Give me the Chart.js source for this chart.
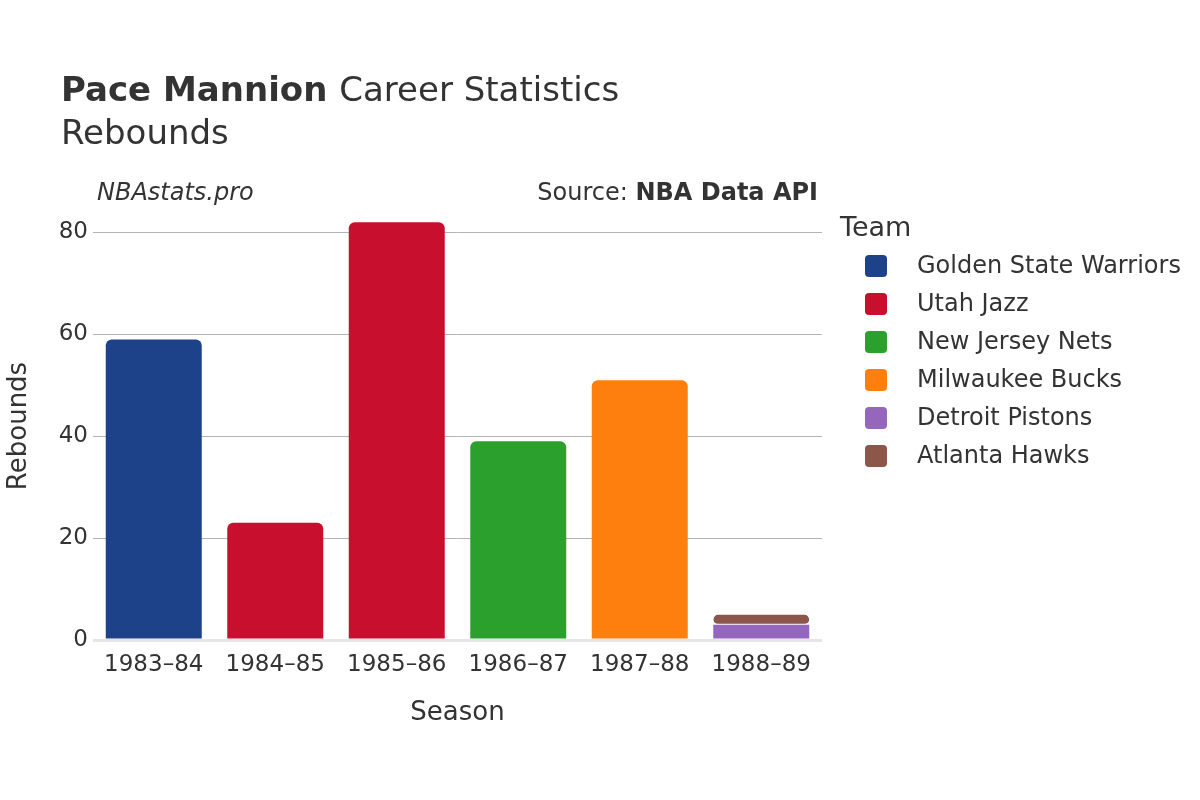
<!DOCTYPE html>
<html>
<head>
<meta charset="utf-8">
<script src="https://cdn.jsdelivr.net/npm/chart.js@4/dist/chart.umd.min.js"></script>
<style>
  body { margin: 0; background: #fff; }
  canvas { display: block; }
</style>
</head>
<body>
<canvas id="chartCanvas" width="1200" height="800"></canvas>
<script>
// Datos del grafico
const seasons = ["1983–84", "1984–85", "1985–86", "1986–87", "1987–88", "1988–89"];
const teams = ["Golden State Warriors", "Utah Jazz", "New Jersey Nets", "Milwaukee Bucks", "Detroit Pistons", "Atlanta Hawks"];
const teamColors = ["#1d428a", "#c8102e", "#2ca02c", "#ff7f0e", "#9467bd", "#8c564b"];
const warriors = [59, null, null, null, null, null];
const jazz = [null, 23, 82, null, null, null];
const nets = [null, null, null, 39, null, null];
const bucks = [null, null, null, null, 51, null];
const pistons = [null, null, null, null, null, 3];
const hawks = [null, null, null, null, null, 2];
const yTicks = [0, 20, 40, 60, 80];

const FONT = "'DejaVu Sans', sans-serif";
const TEXT = "#333333";

const seriesValues = [warriors, jazz, nets, bucks, pistons, hawks];

// Titulos, fuente y leyenda
const textPlugin = {
    id: "texts",
    afterDraw(chart) {
        const ctx = chart.ctx;
        ctx.save();
        ctx.fillStyle = TEXT;
        ctx.textBaseline = "alphabetic";
        ctx.textAlign = "left";

        ctx.font = "bold 34px " + FONT;
        ctx.fillText("Pace Mannion", 61, 101);
        const w = ctx.measureText("Pace Mannion ").width;
        ctx.font = "34px " + FONT;
        ctx.fillText("Career Statistics", 61 + w, 101);
        ctx.fillText("Rebounds", 61, 144);

        ctx.font = "italic 24px " + FONT;
        ctx.fillText("NBAstats.pro", 97, 200);

        ctx.textAlign = "right";
        ctx.font = "bold 24px " + FONT;
        ctx.fillText("NBA Data API", 818, 200);
        const bw = ctx.measureText("NBA Data API").width;
        ctx.font = "24px " + FONT;
        ctx.fillText("Source: ", 818 - bw, 200);

        // Leyenda
        ctx.textAlign = "left";
        ctx.font = "27px " + FONT;
        ctx.fillText("Team", 840, 236);
        ctx.font = "24px " + FONT;
        ctx.textBaseline = "middle";
        chart.data.datasets.forEach((ds, i) => {
            const y = 266 + i * 38;
            ctx.fillStyle = ds.backgroundColor;
            ctx.beginPath();
            ctx.roundRect(865, y - 11, 22, 22, 4);
            ctx.fill();
            ctx.fillStyle = TEXT;
            ctx.fillText(ds.label, 917, y + 1);
        });
        ctx.restore();
    }
};

const chartCanvas = document.getElementById("chartCanvas");

new Chart(chartCanvas, {
    type: "bar",
    data: {
        labels: seasons,
        datasets: teams.map((team, i) => ({
            label: team,
            data: seriesValues[i],
            backgroundColor: teamColors[i],
            borderColor: "#ffffff",
            borderWidth: i === 5 ? { bottom: 1 } : 0,
            borderSkipped: i === 5 ? false : "start",
            borderRadius: 6,
            barPercentage: 0.79,
            categoryPercentage: 1.0
        }))
    },
    options: {
        responsive: false,
        animation: false,
        layout: {
            padding: { left: 4, right: 378, top: 212, bottom: 71 }
        },
        plugins: {
            legend: { display: false },
            tooltip: { enabled: false },
            title: { display: false }
        },
        scales: {
            x: {
                stacked: true,
                grid: { display: false },
                border: { display: false },
                ticks: {
                    color: TEXT,
                    font: { family: FONT, size: 23 },
                    padding: 3,
                    maxRotation: 0
                },
                title: {
                    display: true,
                    text: "Season",
                    color: TEXT,
                    font: { family: FONT, size: 26 },
                    padding: { top: 10, bottom: 0 }
                },
                afterFit(scale) { scale.height = 89; }
            },
            y: {
                stacked: true,
                min: 0,
                max: 84,
                afterBuildTicks(scale) {
                    scale.ticks = yTicks.map(v => ({ value: v }));
                },
                grid: {
                    drawTicks: false,
                    color: (c) => c.tick && c.tick.value === 0 ? "#e6e6e6" : "#b4b4b4",
                    lineWidth: (c) => c.tick && c.tick.value === 0 ? 3 : 1
                },
                border: { display: false },
                ticks: {
                    color: TEXT,
                    font: { family: FONT, size: 23 },
                    padding: 5
                },
                title: {
                    display: true,
                    text: "Rebounds",
                    color: TEXT,
                    font: { family: FONT, size: 26 },
                    padding: 0
                },
                afterFit(scale) { scale.width = 89; }
            }
        }
    },
    plugins: [textPlugin]
});
</script>
</body>
</html>
